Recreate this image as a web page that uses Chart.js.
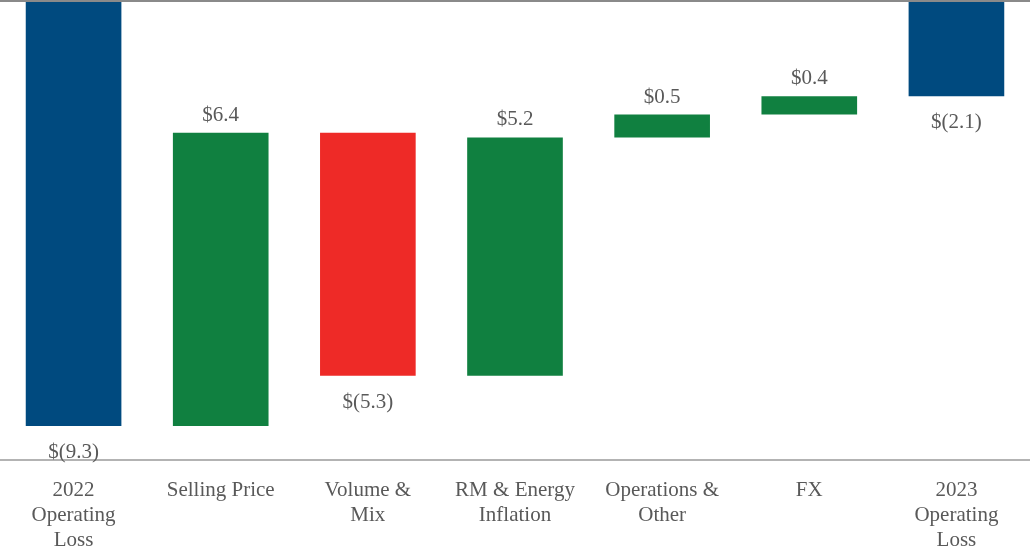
<!DOCTYPE html>
<html>
<head>
<meta charset="utf-8">
<script src="https://cdn.jsdelivr.net/npm/chart.js@4"></script>
<style>
  html, body { margin: 0; padding: 0; background: #fff; }
  #wrap { width: 1030px; height: 550px; }
</style>
</head>
<body>
<div id="wrap"><canvas id="waterfall"></canvas></div>
<script>
const categories = [
  ["2022", "Operating", "Loss"],
  "Selling Price",
  ["Volume &", "Mix"],
  ["RM & Energy", "Inflation"],
  ["Operations &", "Other"],
  "FX",
  ["2023", "Operating", "Loss"]
];
const changes = [-9.3, 6.4, -5.3, 5.2, 0.5, 0.4, -2.1];
const isTotal = [true, false, false, false, false, false, true];
const valueLabels = ["$(9.3)", "$6.4", "$(5.3)", "$5.2", "$0.5", "$0.4", "$(2.1)"];

const BLUE = "#004a7f";
const GREEN = "#108040";
const RED = "#ee2a27";
const TEXT = "#595959";
const FONT = "'Liberation Serif', 'Times New Roman', serif";

// floating bar ranges for the waterfall
let running = 0;
const ranges = changes.map((c, i) => {
  if (isTotal[i]) {
    running = c;
    return [0, c];
  }
  const start = running;
  running = +(running + c).toFixed(2);
  return [start, running];
});
const colors = changes.map((c, i) => isTotal[i] ? BLUE : (c >= 0 ? GREEN : RED));

const extras = {
  id: "extras",
  afterDatasetsDraw(chart) {
    const { ctx, chartArea } = chart;
    const y = chart.scales.y;
    ctx.save();
    ctx.strokeStyle = "#8a8a8a";
    ctx.lineWidth = 2;
    ctx.beginPath();
    ctx.moveTo(0, y.getPixelForValue(0) + 1);
    ctx.lineTo(chart.width, y.getPixelForValue(0) + 1);
    ctx.stroke();
    ctx.strokeStyle = "#9a9a9a";
    ctx.lineWidth = 1.5;
    ctx.beginPath();
    ctx.moveTo(0, chartArea.bottom);
    ctx.lineTo(chart.width, chartArea.bottom);
    ctx.stroke();

    ctx.fillStyle = TEXT;
    ctx.font = "21px " + FONT;
    ctx.textAlign = "center";
    ctx.textBaseline = "middle";
    chart.getDatasetMeta(0).data.forEach((bar, i) => {
      const top = Math.min(bar.y, bar.base);
      const bottom = Math.max(bar.y, bar.base);
      const below = isTotal[i] || changes[i] < 0;
      ctx.fillText(valueLabels[i], bar.x, below ? bottom + 26.5 : top - 17.5);
    });
    ctx.restore();
  }
};

new Chart(document.getElementById("waterfall"), {
  type: "bar",
  data: {
    labels: categories,
    datasets: [{
      data: ranges,
      backgroundColor: colors,
      borderWidth: 0,
      categoryPercentage: 1,
      barPercentage: 0.65
    }]
  },
  options: {
    responsive: true,
    maintainAspectRatio: false,
    animation: false,
    layout: { padding: 0 },
    plugins: {
      legend: { display: false },
      tooltip: { enabled: false }
    },
    scales: {
      x: {
        grid: { display: false, drawTicks: false },
        border: { display: false },
        afterFit(scale) { scale.height = 90; },
        ticks: {
          color: TEXT,
          padding: 18,
          maxRotation: 0,
          autoSkip: false,
          font: { family: FONT, size: 21, lineHeight: 1.19 }
        }
      },
      y: {
        display: false,
        min: -10.04,
        max: 0
      }
    }
  },
  plugins: [extras]
});
</script>
</body>
</html>
